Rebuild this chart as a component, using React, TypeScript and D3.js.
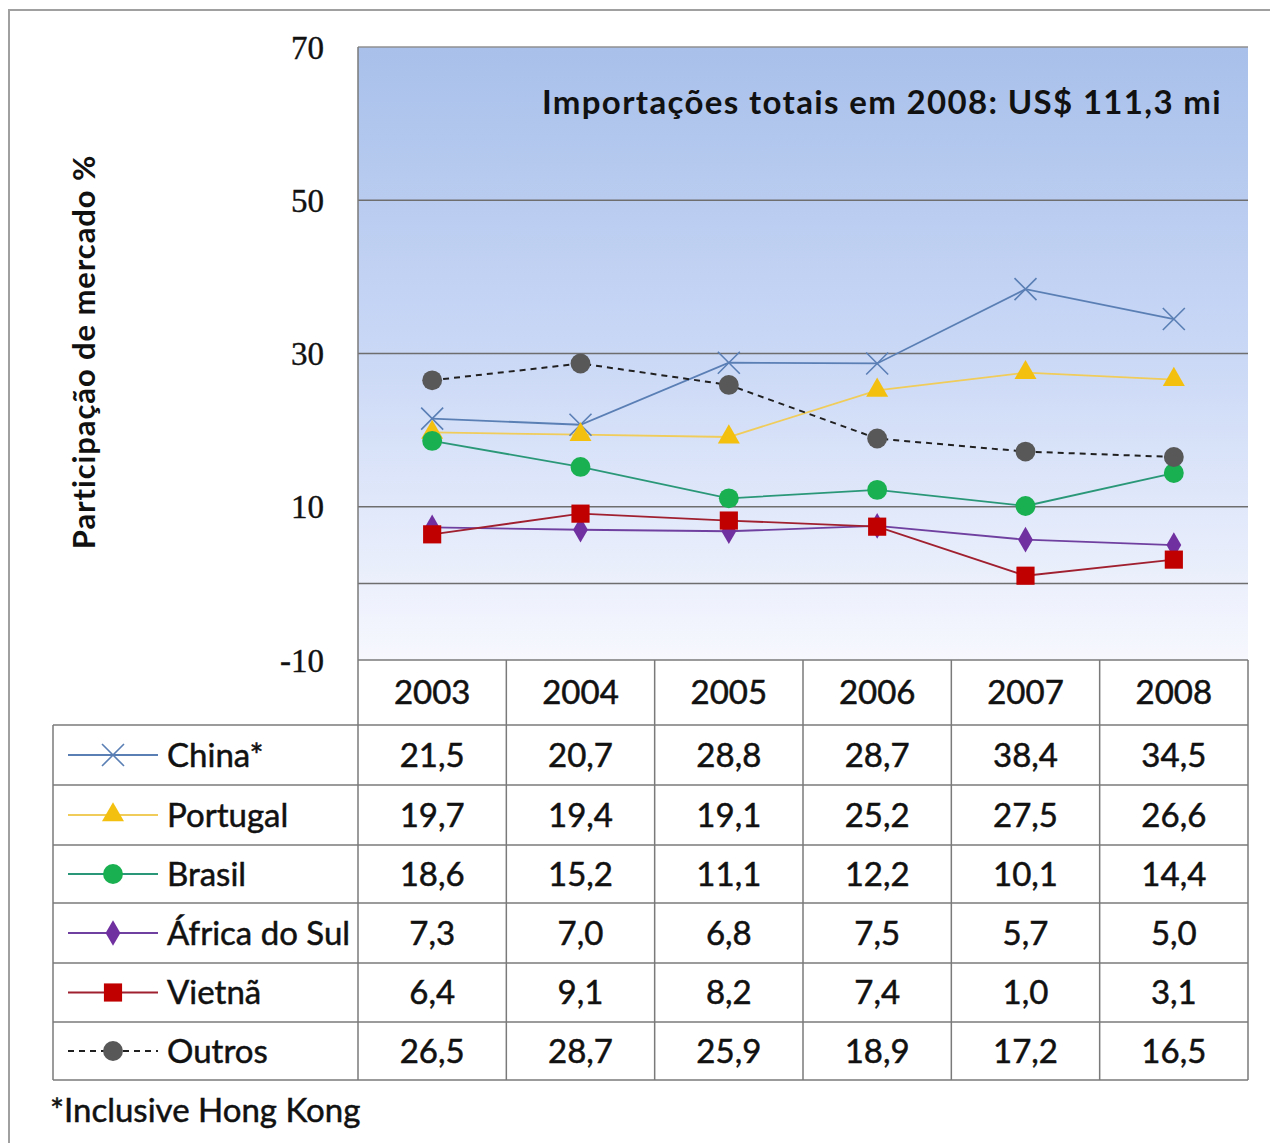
import React from "react";
import * as d3 from "d3";

const years = ["2003", "2004", "2005", "2006", "2007", "2008"];
const seriesNames = ["China*", "Portugal", "Brasil", "África do Sul", "Vietnã", "Outros"];
const china = [21.5, 20.7, 28.8, 28.7, 38.4, 34.5];
const portugal = [19.7, 19.4, 19.1, 25.2, 27.5, 26.6];
const brasil = [18.6, 15.2, 11.1, 12.2, 10.1, 14.4];
const africaDoSul = [7.3, 7.0, 6.8, 7.5, 5.7, 5.0];
const vietna = [6.4, 9.1, 8.2, 7.4, 1.0, 3.1];
const outros = [26.5, 28.7, 25.9, 18.9, 17.2, 16.5];
const yTicks = [-10, 10, 30, 50, 70];
const gridValues = [0, 10, 30, 50];
const title = "Importações totais em 2008: US$ 111,3 mi";
const yLabel = "Participação de mercado %";
const footnote = "*Inclusive Hong Kong";

const seriesValues = [china, portugal, brasil, africaDoSul, vietna, outros];
const lineColors = ["#5a7fb5", "#f0cc5a", "#2a9878", "#7040a0", "#a02030", "#202020"];
const markerColors = ["#5a7fb5", "#f4c010", "#18b050", "#7030a0", "#c00000", "#585858"];
const markerKinds = ["x", "triangle", "circle", "diamond", "square", "circle"];

const W = 1270, H = 1143;
const plotL = 358, plotR = 1248, plotT = 47, plotB = 660;
const rowTops = [725, 785, 845, 903, 963, 1022, 1080];
const tableLeft = 53;
const font = "Lato, 'Open Sans', sans-serif";
const fmt = (v: number) => d3.format(".1f")(v).replace(".", ",");

function Marker({ kind, x, y, color }: { kind: string; x: number; y: number; color: string }) {
  if (kind === "x") {
    const s = 11;
    return (
      <path d={`M${x - s},${y - s}L${x + s},${y + s}M${x - s},${y + s}L${x + s},${y - s}`} stroke={color} strokeWidth={1.6} fill="none" />
    );
  }
  const typeMap: Record<string, any> = {
    triangle: d3.symbolTriangle,
    circle: d3.symbolCircle,
    diamond: d3.symbolDiamond,
    square: d3.symbolSquare,
  };
  const sizeMap: Record<string, number> = { triangle: 210, circle: 310, diamond: 190, square: 330 };
  const p = d3.symbol().type(typeMap[kind]).size(sizeMap[kind])();
  return <path d={p || ""} transform={`translate(${x},${y})`} fill={color} />;
}

export default function App() {
  const x = d3.scaleBand().domain(years).range([plotL, plotR]);
  const y = d3.scaleLinear().domain([-10, 70]).range([plotB, plotT]);
  const cx = (yr: string) => (x(yr) as number) + x.bandwidth() / 2;
  const line = d3
    .line<number>()
    .x((_, i) => cx(years[i]))
    .y((d) => y(d));
  const gridColor = "#6e6e6e";
  const tableColor = "#7a7a7a";
  const textProps = { fontFamily: font, fill: "#111", stroke: "#111", strokeWidth: 0.5 };

  return (
    <svg width={W} height={H} style={{ position: "absolute", left: 0, top: 0, background: "#fff" }}>
      <defs>
        <linearGradient id="bg" x1="0" y1="0" x2="0" y2="1">
          <stop offset="0" stopColor="#a8c0ea" />
          <stop offset="0.5" stopColor="#cad8f6" />
          <stop offset="1" stopColor="#f7f8fe" />
        </linearGradient>
      </defs>
      {/* outer frame */}
      <path d={`M9,${H}V10H${W}`} fill="none" stroke="#a0a0a0" strokeWidth={2} />
      {/* plot area */}
      <rect x={plotL} y={plotT} width={plotR - plotL} height={plotB - plotT} fill="url(#bg)" />
      <line x1={plotL} x2={plotR} y1={plotT} y2={plotT} stroke="#909090" strokeWidth={1.5} />
      {gridValues.map((g) => (
        <line key={g} x1={plotL} x2={plotR} y1={y(g)} y2={y(g)} stroke={gridColor} strokeWidth={1.5} />
      ))}
      <line x1={plotL} x2={plotL} y1={plotT} y2={plotB} stroke={tableColor} strokeWidth={1.5} />
      {/* y ticks */}
      {yTicks.map((t) => (
        <text key={t} x={324} y={y(t)} dy="0.35em" textAnchor="end" fontFamily="'Liberation Serif', serif" fontSize={33} fill="#111" stroke="#111" strokeWidth={0.4}>
          {t}
        </text>
      ))}
      <text
        transform={`translate(84,${352}) rotate(-90)`}
        textAnchor="middle"
        dy="0.35em"
        fontFamily={font}
        fontWeight={700}
        fontSize={31}
        letterSpacing={0.9}
        fill="#111"
      >
        {yLabel}
      </text>
      <text x={1222} y={102} dy="0.35em" textAnchor="end" fontFamily={font} fontWeight={700} fontSize={33} letterSpacing={1.35} fill="#111">
        {title}
      </text>
      {/* series lines */}
      {seriesValues.map((vals, si) => (
        <path
          key={si}
          d={line(vals) || ""}
          fill="none"
          stroke={lineColors[si]}
          strokeWidth={si === 5 ? 2 : 1.8}
          strokeDasharray={si === 5 ? "6,5" : undefined}
        />
      ))}
      {seriesValues.map((vals, si) =>
        vals.map((v, i) => <Marker key={`${si}-${i}`} kind={markerKinds[si]} x={cx(years[i])} y={y(v)} color={markerColors[si]} />)
      )}
      {/* table */}
      <rect x={plotL} y={plotB} width={plotR - plotL} height={rowTops[rowTops.length - 1] - plotB} fill="#fff" />
      <rect x={tableLeft} y={rowTops[0]} width={plotL - tableLeft} height={rowTops[rowTops.length - 1] - rowTops[0]} fill="#fff" />
      <line x1={plotL} x2={plotR} y1={plotB} y2={plotB} stroke={tableColor} strokeWidth={1.5} />
      {rowTops.map((r) => (
        <line key={r} x1={tableLeft} x2={plotR} y1={r} y2={r} stroke={tableColor} strokeWidth={1.5} />
      ))}
      <line x1={tableLeft} x2={tableLeft} y1={rowTops[0]} y2={rowTops[rowTops.length - 1]} stroke={tableColor} strokeWidth={1.5} />
      {[...years.map((yr) => x(yr) as number), plotR].map((vx, i) => (
        <line key={i} x1={vx} x2={vx} y1={plotB} y2={rowTops[rowTops.length - 1]} stroke={tableColor} strokeWidth={1.5} />
      ))}
      {years.map((yr) => (
        <text key={yr} x={cx(yr)} y={(plotB + rowTops[0]) / 2} dy="0.35em" textAnchor="middle" fontSize={33} {...textProps}>
          {yr}
        </text>
      ))}
      {seriesValues.map((vals, si) => {
        const rc = (rowTops[si] + rowTops[si + 1]) / 2;
        return (
          <g key={si}>
            <line
              x1={68}
              x2={158}
              y1={rc}
              y2={rc}
              stroke={lineColors[si]}
              strokeWidth={1.8}
              strokeDasharray={si === 5 ? "6,5" : undefined}
            />
            <Marker kind={markerKinds[si]} x={113} y={rc} color={markerColors[si]} />
            <text x={167} y={rc} dy="0.35em" fontSize={33} {...textProps}>
              {seriesNames[si]}
            </text>
            {vals.map((v, i) => (
              <text key={i} x={cx(years[i])} y={rc} dy="0.35em" textAnchor="middle" fontSize={33} {...textProps}>
                {fmt(v)}
              </text>
            ))}
          </g>
        );
      })}
      <text x={50} y={1110} dy="0.35em" fontSize={33} {...textProps}>
        {footnote}
      </text>
    </svg>
  );
}
